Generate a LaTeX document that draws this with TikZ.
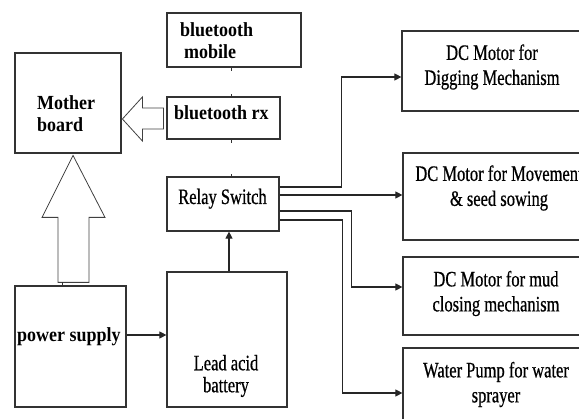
\documentclass[tikz,border=0pt]{standalone}
\usepackage{fontspec}
\setmainfont{Liberation Serif}
\newfontfamily\narrowserif[FakeStretch=0.75, FakeBold=0.6]{Liberation Serif}
\newfontfamily\boldserif[FakeStretch=0.9]{Liberation Serif}
\usetikzlibrary{arrows.meta, positioning, calc}

\begin{document}
\begin{tikzpicture}[
        x=1pt, y=-1pt,
        box/.style={draw=black!80, line width=1.2pt, inner sep=0pt},
        txt/.style={font=\narrowserif\fontsize{22}{25}\selectfont, align=center, inner sep=0pt},
        btxt/.style={font=\boldserif\bfseries\fontsize{20}{22}\selectfont, align=left, inner sep=0pt},
        arr/.style={-{Triangle[length=7pt, width=7pt]}, line width=1.1pt, black!85},
        hollow/.style={draw=black!75, line width=0.8pt, line join=miter},
        tick/.style={draw=black!80, line width=1pt}
    ]
        \useasboundingbox (0,0) rectangle (579,419);

        % Left column
        \node[box, minimum width=106pt, minimum height=100pt] (mb) at (68,103) {};
        \node[btxt, anchor=west] (mbt) at (37,114) {Mother\\board};
        \node[box, minimum width=111pt, minimum height=121pt] (ps) at (70.5,346.5) {};
        \node[btxt, anchor=base west] (pst) at (17,342) {power supply};

        % Middle column
        \node[box, minimum width=134pt, minimum height=54pt] (btm) at (234,40) {};
        \node[btxt, anchor=west] (btmt) at (180,41) {bluetooth\\\hspace*{4pt}mobile};
        \node[box, minimum width=113pt, minimum height=42pt] (btrx) at (223.5,118) {};
        \node[btxt, anchor=base west] (btrxt) at (174,120) {bluetooth rx};
        \node[box, minimum width=112pt, minimum height=54pt] (relay) at (223,204) {};
        \node[txt, anchor=base] (relayt) at (222.5,204) {Relay Switch};
        \node[box, minimum width=120pt, minimum height=135pt] (lab) at (227,339.5) {};
        \node[txt, font=\narrowserif\fontsize{22}{22}\selectfont] (labt) at (226,376) {Lead acid\\battery};

        % Right column (cut at the page edge)
        \node[box, minimum width=185pt, minimum height=80pt] (m1) at (494.5,71) {};
        \node[txt] (m1t) at (492,67) {DC Motor for\\Digging Mechanism};
        \node[box, minimum width=184pt, minimum height=87pt] (m2) at (495,196.5) {};
        \node[txt] (m2t) at (499,188) {DC Motor for Movement\\\& seed sowing};
        \node[box, minimum width=184pt, minimum height=78pt] (m3) at (495,296) {};
        \node[txt] (m3t) at (496,293.5) {DC Motor for mud\\closing mechanism};
        \node[box, minimum width=184pt, minimum height=84pt] (m4) at (495,390) {};
        \node[txt] (m4t) at (496,384.5) {Water Pump for water\\sprayer};

        % Hollow arrows
        \draw[hollow] ($(btrx.west)+(-3,-10)$) -- ++(-21,0) -- ++(0,-11) -- ++(-20,22)
            -- ++(20,22) -- ++(0,-12) -- ++(21,0) -- cycle;
        \draw[hollow] ($(ps.north)+(-12.5,-3)$) -- ++(0,-65) -- ++(-16,0) -- ++(31,-62)
            -- ++(32,62) -- ++(-16,0) -- ++(0,65) -- cycle;

        % Short stubs
        \coordinate (tk) at (231,0);
        \draw[tick] (btm.south -| tk) -- ++(0,3);
        \draw[tick] (btrx.north -| tk) -- ++(0,-2);
        \draw[tick] (btrx.south -| tk) -- ++(0,3);
        \draw[tick] (relay.north -| tk) -- ++(0,-2);
        \draw[tick] ($(ps.north)+(-8.5,0)$) -- ++(0,-3);

        % Power path
        \draw[arr] ($(ps.east)+(0,-11.5)$) -- ($(lab.west)+(0,-4.5)$);
        \draw[arr] ($(lab.north)+(2,0)$) -- ($(relay.south)+(6,0)$);

        % Relay outputs
        \draw[arr] ($(relay.east)+(0,-17)$) -- ++(62,0) |- ($(m1.west)+(0,6)$);
        \draw[arr] ($(relay.east)+(0,-9)$) -- ($(m2.west)+(0,-1.5)$);
        \draw[arr] ($(relay.east)+(0,7)$) -- ++(72,0) |- ($(m3.west)+(0,-9)$);
        \draw[arr] ($(relay.east)+(0,16)$) -- ++(63,0) |- ($(m4.west)+(0,3)$);
    \end{tikzpicture}
\end{document}
